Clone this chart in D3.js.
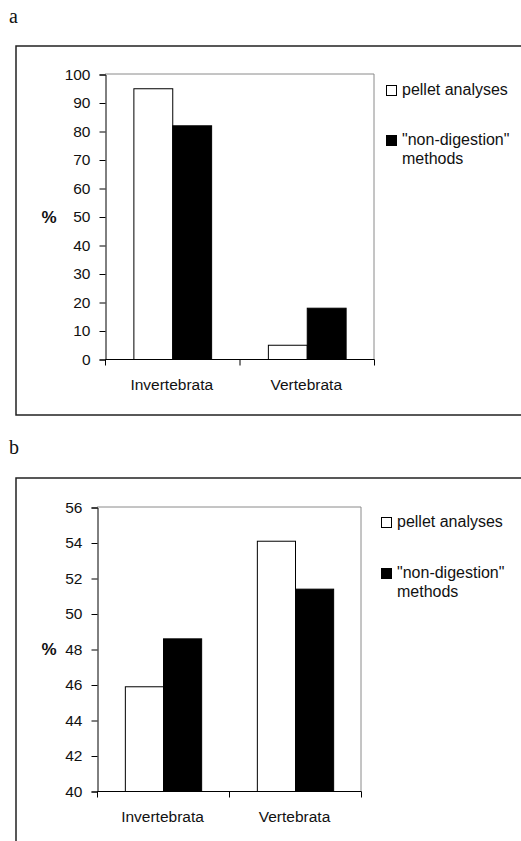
<!DOCTYPE html>
<html>
<head>
<meta charset="utf-8">
<script src="https://cdn.jsdelivr.net/npm/d3@7/dist/d3.min.js"></script>
<style>
  html, body { margin: 0; padding: 0; background: #fff; }
  svg { display: block; }
  text { font-family: "Liberation Sans", Arial, sans-serif; fill: #111; }
</style>
</head>
<body>
<svg id="chart" width="521" height="841"></svg>
<script>
// ---- data ----
const categories = ["Invertebrata", "Vertebrata"];
const seriesNames = ["pellet analyses", "\"non-digestion\" methods"];
const pelletA = [95, 5];
const nonDigestionA = [82, 18];
const pelletB = [45.9, 54.1];
const nonDigestionB = [48.6, 51.4];
const ticksA = [0, 10, 20, 30, 40, 50, 60, 70, 80, 90, 100];
const ticksB = [40, 42, 44, 46, 48, 50, 52, 54, 56];

const svg = d3.select("#chart");
const fills = ["#ffffff", "#000000"];

function drawPanel(opt) {
  const g = svg.append("g");
  // panel letter
  g.append("text")
    .attr("x", 9).attr("y", opt.letterY)
    .style("font-family", "'Liberation Serif', 'Times New Roman', serif")
    .style("font-size", "20px")
    .text(opt.letter);
  // outer frame
  g.append("rect")
    .attr("x", 16).attr("y", opt.frameTop)
    .attr("width", 600).attr("height", opt.frameBottom - opt.frameTop)
    .attr("fill", "none").attr("stroke", "#222").attr("stroke-width", 1.5);

  const x0 = d3.scaleBand().domain(categories).range([opt.left, opt.right]).paddingInner(0).paddingOuter(0);
  const x1 = d3.scaleBand().domain(seriesNames).range([0, x0.bandwidth()]).paddingInner(0).paddingOuter(0.73);
  const y = d3.scaleLinear().domain([opt.ticks[0], opt.ticks[opt.ticks.length - 1]]).range([opt.bottom, opt.top]);

  // plot area top/right border (gray)
  g.append("path")
    .attr("d", `M${opt.left},${opt.top}H${opt.right}V${opt.bottom}`)
    .attr("fill", "none").attr("stroke", "#8a8a8a").attr("stroke-width", 1);

  // bars
  const rows = categories.map((c, i) => ({ c, vals: [opt.s1[i], opt.s2[i]] }));
  const grp = g.selectAll("g.cat").data(rows).join("g")
    .attr("transform", d => `translate(${x0(d.c)},0)`);
  grp.selectAll("rect").data(d => d.vals.map((v, j) => ({ v, s: seriesNames[j], j })))
    .join("rect")
    .attr("x", d => x1(d.s) + 0.5)
    .attr("width", x1.bandwidth())
    .attr("y", d => y(d.v) + 0.5)
    .attr("height", d => y(opt.ticks[0]) - y(d.v))
    .attr("fill", d => fills[d.j])
    .attr("stroke", "#000").attr("stroke-width", 1);

  // y axis
  const ya = g.append("g").attr("transform", `translate(${opt.left + 0.5},0.5)`)
    .call(d3.axisLeft(y).tickValues(opt.ticks).tickSize(6).tickPadding(9).tickFormat(d3.format("d")));
  ya.select(".domain").attr("stroke", "#000");
  ya.selectAll(".tick line").attr("stroke", "#000");
  ya.selectAll("text").style("font-size", "15.5px").attr("fill", "#111").style("font-family", "'Liberation Sans', Arial, sans-serif");

  // x axis: ticks at category boundaries
  const xa = g.append("g").attr("transform", `translate(0.5,${opt.bottom + 0.5})`);
  xa.append("line").attr("x1", opt.left).attr("x2", opt.right).attr("stroke", "#000");
  const bounds = categories.map(c => x0(c)).concat([x0(categories[categories.length - 1]) + x0.bandwidth()]);
  xa.selectAll("line.tk").data(bounds).join("line").attr("class", "tk")
    .attr("x1", d => d).attr("x2", d => d).attr("y1", 0).attr("y2", 6).attr("stroke", "#000");
  xa.selectAll("text").data(categories).join("text")
    .attr("x", d => x0(d) + x0.bandwidth() / 2 - 1)
    .attr("y", 30)
    .attr("text-anchor", "middle")
    .style("font-size", "15.5px")
    .text(d => d);

  // % label
  g.append("text")
    .attr("x", 49).attr("y", y(opt.pctAt) + 6)
    .attr("text-anchor", "middle")
    .style("font-size", "17px").style("font-weight", "bold")
    .text("%");

  // legend
  const lg = g.append("g");
  const items = [
    { lines: [seriesNames[0]], fill: fills[0], y: opt.legY1 },
    { lines: ["\"non-digestion\"", "methods"], fill: fills[1], y: opt.legY2 }
  ];
  items.forEach(it => {
    lg.append("rect")
      .attr("x", opt.legX + 0.5).attr("y", it.y - 10 + 0.5)
      .attr("width", 10).attr("height", 10)
      .attr("fill", it.fill).attr("stroke", "#000").attr("stroke-width", 1);
    it.lines.forEach((t, k) => {
      lg.append("text")
        .attr("x", opt.legX + 16).attr("y", it.y + k * 19)
        .style("font-size", "16px")
        .text(t);
    });
  });
}

drawPanel({
  letter: "a", letterY: 23, frameTop: 46, frameBottom: 415,
  left: 105, right: 374, top: 74, bottom: 359,
  ticks: ticksA, s1: pelletA, s2: nonDigestionA, pctAt: 50,
  legX: 386, legY1: 95, legY2: 145
});
drawPanel({
  letter: "b", letterY: 454, frameTop: 478, frameBottom: 900,
  left: 97, right: 361, top: 507, bottom: 791,
  ticks: ticksB, s1: pelletB, s2: nonDigestionB, pctAt: 48,
  legX: 381, legY1: 527, legY2: 578
});
</script>
</body>
</html>
